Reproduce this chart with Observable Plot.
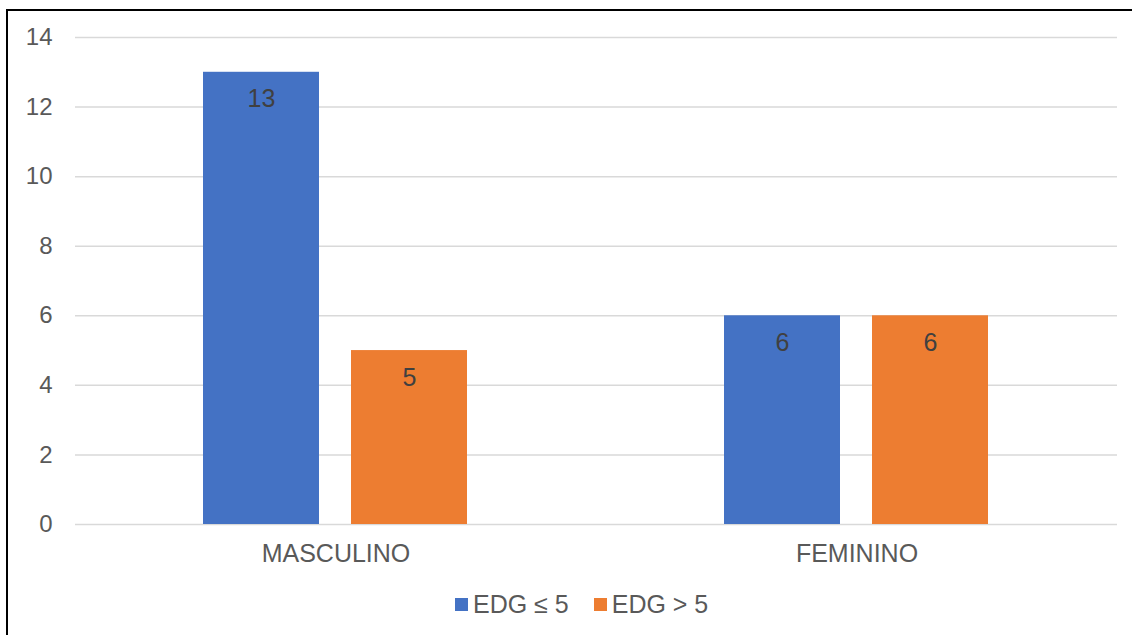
<!DOCTYPE html>
<html>
<head>
<meta charset="utf-8">
<script src="https://cdn.jsdelivr.net/npm/d3@7"></script>
<script src="https://cdn.jsdelivr.net/npm/@observablehq/plot@0.6"></script>
<style>
  html, body { margin: 0; padding: 0; background: #fff; width: 1132px; height: 635px; overflow: hidden; }
  #frame { position: absolute; left: 6px; top: 9px; width: 1200px; height: 700px; border-left: 2px solid #000; border-top: 2px solid #000; }
  #chart { position: absolute; left: 0; top: 0; }
  #legend { position: absolute; left: 455px; top: 590px; font-family: "Liberation Sans", Arial, sans-serif; font-size: 25px; color: #595959; display: flex; align-items: center; white-space: nowrap; }
  #legend .sw { display: inline-block; width: 13px; height: 13px; margin-right: 5px; }
  #legend .item { display: flex; align-items: center; margin-right: 25px; }
</style>
</head>
<body>
<div id="frame"></div>
<div id="chart"></div>
<div id="legend"></div>
<script>
const categories = ["MASCULINO", "FEMININO"];
const seriesNames = ["EDG ≤ 5", "EDG > 5"];
const edgLe5 = [13, 6];
const edgGt5 = [5, 6];
const yTicks = [0, 2, 4, 6, 8, 10, 12, 14];
const colors = ["#4472C4", "#ED7D31"];

const seriesValues = [edgLe5, edgGt5];
const data = [];
categories.forEach((c, i) => {
  seriesNames.forEach((s, j) => data.push({cat: c, series: s, value: seriesValues[j][i]}));
});

const plot = Plot.plot({
  width: 1132,
  height: 580,
  marginTop: 37,
  marginBottom: 56,
  marginLeft: 74,
  marginRight: 15,
  style: {fontFamily: "'Liberation Sans', Arial, sans-serif", fontSize: "25px", color: "#595959", background: "transparent"},
  fx: {domain: categories, padding: 0, label: null, axis: "bottom", tickSize: 0, tickPadding: 20},
  x: {domain: seriesNames, paddingInner: 0.216, paddingOuter: 0.868, axis: null},
  y: {domain: [0, 14]},
  color: {domain: seriesNames, range: colors},
  marks: [
    Plot.gridY(yTicks, {stroke: "#d9d9d9", strokeOpacity: 1, strokeWidth: 1.5}),
    Plot.axisY(yTicks, {tickSize: 0, tickPadding: 23, label: null, fontSize: 24, fill: "#595959"}),
    Plot.barY(data, {fx: "cat", x: "series", y: "value", fill: "series"}),
    Plot.text(data, {fx: "cat", x: "series", y: "value", text: d => String(d.value), dy: 27, fill: "#404040", fontSize: 25})
  ]
});
document.getElementById("chart").appendChild(plot);

const legend = document.getElementById("legend");
seriesNames.forEach((s, i) => {
  const item = document.createElement("span");
  item.className = "item";
  const sw = document.createElement("span");
  sw.className = "sw";
  sw.style.background = colors[i];
  item.appendChild(sw);
  item.appendChild(document.createTextNode(s));
  legend.appendChild(item);
});
</script>
</body>
</html>
